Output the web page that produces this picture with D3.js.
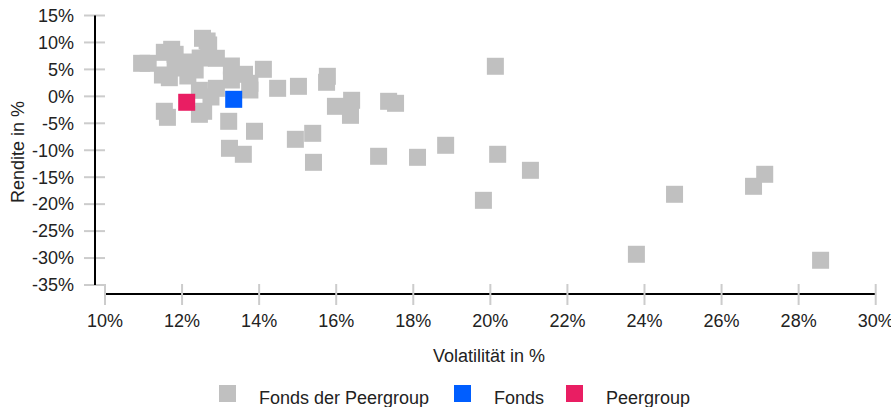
<!DOCTYPE html>
<html>
<head>
<meta charset="utf-8">
<script src="https://cdn.jsdelivr.net/npm/d3@7"></script>
<style>
  body { margin: 0; background: #fff; }
  svg { display: block; font-family: "Liberation Sans", Arial, sans-serif; }
  .tick text { fill: #222; }
</style>
</head>
<body>
<svg id="chart" width="891" height="407"></svg>
<script>
// Volatilität (x) und Rendite (y) in %
var peerVol = [10.95, 11.12, 11.54, 11.73, 11.82, 11.49, 11.67, 11.82, 12.08, 12.34,
    12.53, 12.65, 12.69, 12.89, 12.47, 13.28, 13.28, 13.62, 13.76, 13.76,
    14.11, 12.89, 12.45, 12.75, 12.45, 12.56, 11.54, 11.62, 13.21, 13.88,
    13.23, 13.59, 14.48, 15.02, 15.77, 15.75, 15.98, 16.40, 16.37, 17.36,
    17.54, 14.94, 15.39, 15.41, 17.10, 18.11, 18.84, 20.13, 20.19, 21.04,
    19.82, 24.78, 27.12, 26.83, 23.79, 28.57, 12.15];
var peerRet = [6.13, 6.13, 8.17, 8.73, 7.80, 3.96, 3.46, 5.26, 6.37, 4.89,
    10.77, 10.27, 9.53, 7.06, 7.11, 5.63, 3.03, 4.09, 2.42, 1.18,
    5.02, 1.49, 1.12, -0.12, -3.33, -2.77, -2.77, -3.89, -4.63, -6.48,
    -9.64, -10.75, 1.49, 1.86, 3.72, 2.61, -1.85, -0.73, -3.52, -0.92,
    -1.29, -7.97, -6.86, -12.24, -11.12, -11.31, -9.08, 5.58, -10.75, -13.72,
    -19.29, -18.17, -14.46, -16.69, -29.30, -30.41, 3.78];
var fondsVol = [13.34];
var fondsRet = [-0.55];
var peergroupVol = [12.12];
var peergroupRet = [-1.10];

var xTicks = [10, 12, 14, 16, 18, 20, 22, 24, 26, 28, 30];
var yTicks = [15, 10, 5, 0, -5, -10, -15, -20, -25, -30, -35];
var legendNames = ["Fonds der Peergroup", "Fonds", "Peergroup"];
var colors = ["#c0c0c0", "#005eff", "#e91e63"];

var svg = d3.select("#chart");
var x = d3.scaleLinear().domain([10, 30]).range([105, 875.7]);
var y = d3.scaleLinear().domain([-35, 15]).range([285, 15.5]);
var size = 17;
var fontSize = 18;

// x axis
var xAxis = svg.append("g").attr("transform", "translate(0,294)");
xAxis.append("line")
    .attr("x1", x(10)).attr("x2", x(30))
    .attr("stroke", "#000").attr("stroke-width", 2);
var xt = xAxis.selectAll(".tick").data(xTicks).enter().append("g")
    .attr("class", "tick")
    .attr("transform", function (d) { return "translate(" + x(d) + ",0)"; });
xt.append("line").attr("y1", -10).attr("y2", 11)
    .attr("stroke", "#cccccc").attr("stroke-width", 2);
xt.append("text")
    .attr("y", 27).attr("dy", "0.35em")
    .attr("text-anchor", "middle")
    .style("font-size", fontSize + "px")
    .text(function (d) { return d + "%"; });

// y axis
var yAxis = svg.append("g").attr("transform", "translate(95,0)");
var yt = yAxis.selectAll(".tick").data(yTicks).enter().append("g")
    .attr("class", "tick")
    .attr("transform", function (d) { return "translate(0," + y(d) + ")"; });
yt.append("line").attr("x1", -11).attr("x2", 10)
    .attr("stroke", "#cccccc").attr("stroke-width", 2);
yt.append("text")
    .attr("x", -21).attr("dy", "0.35em")
    .attr("text-anchor", "end")
    .style("font-size", fontSize + "px")
    .text(function (d) { return d + "%"; });
yAxis.append("line")
    .attr("y1", y(15)).attr("y2", y(-35))
    .attr("stroke", "#000").attr("stroke-width", 2);

// axis titles
svg.append("text")
    .attr("x", 489).attr("y", 356).attr("dy", "0.35em")
    .attr("text-anchor", "middle")
    .style("font-size", fontSize + "px").attr("fill", "#222")
    .text("Volatilität in %");
svg.append("text")
    .attr("transform", "translate(18,152) rotate(-90)")
    .attr("dy", "0.35em")
    .attr("text-anchor", "middle")
    .style("font-size", fontSize + "px").attr("fill", "#222")
    .text("Rendite in %");

// points
function drawSquares(vols, rets, color) {
    svg.append("g").selectAll("rect")
        .data(vols.map(function (v, i) { return [v, rets[i]]; }))
        .enter().append("rect")
        .attr("x", function (d) { return x(d[0]) - size / 2; })
        .attr("y", function (d) { return y(d[1]) - size / 2; })
        .attr("width", size).attr("height", size)
        .attr("fill", color);
}
drawSquares(peerVol, peerRet, colors[0]);
drawSquares(fondsVol, fondsRet, colors[1]);
drawSquares(peergroupVol, peergroupRet, colors[2]);

// legend
var legendX = [219, 454, 566];
var legend = svg.append("g").selectAll("g").data(legendNames).enter().append("g")
    .attr("transform", function (d, i) { return "translate(" + legendX[i] + ",385)"; });
legend.append("rect")
    .attr("width", size).attr("height", size)
    .attr("fill", function (d, i) { return colors[i]; });
legend.append("text")
    .attr("x", 40).attr("y", size / 2 + 4).attr("dy", "0.35em")
    .style("font-size", fontSize + "px").attr("fill", "#222")
    .text(function (d) { return d; });
</script>
</body>
</html>
